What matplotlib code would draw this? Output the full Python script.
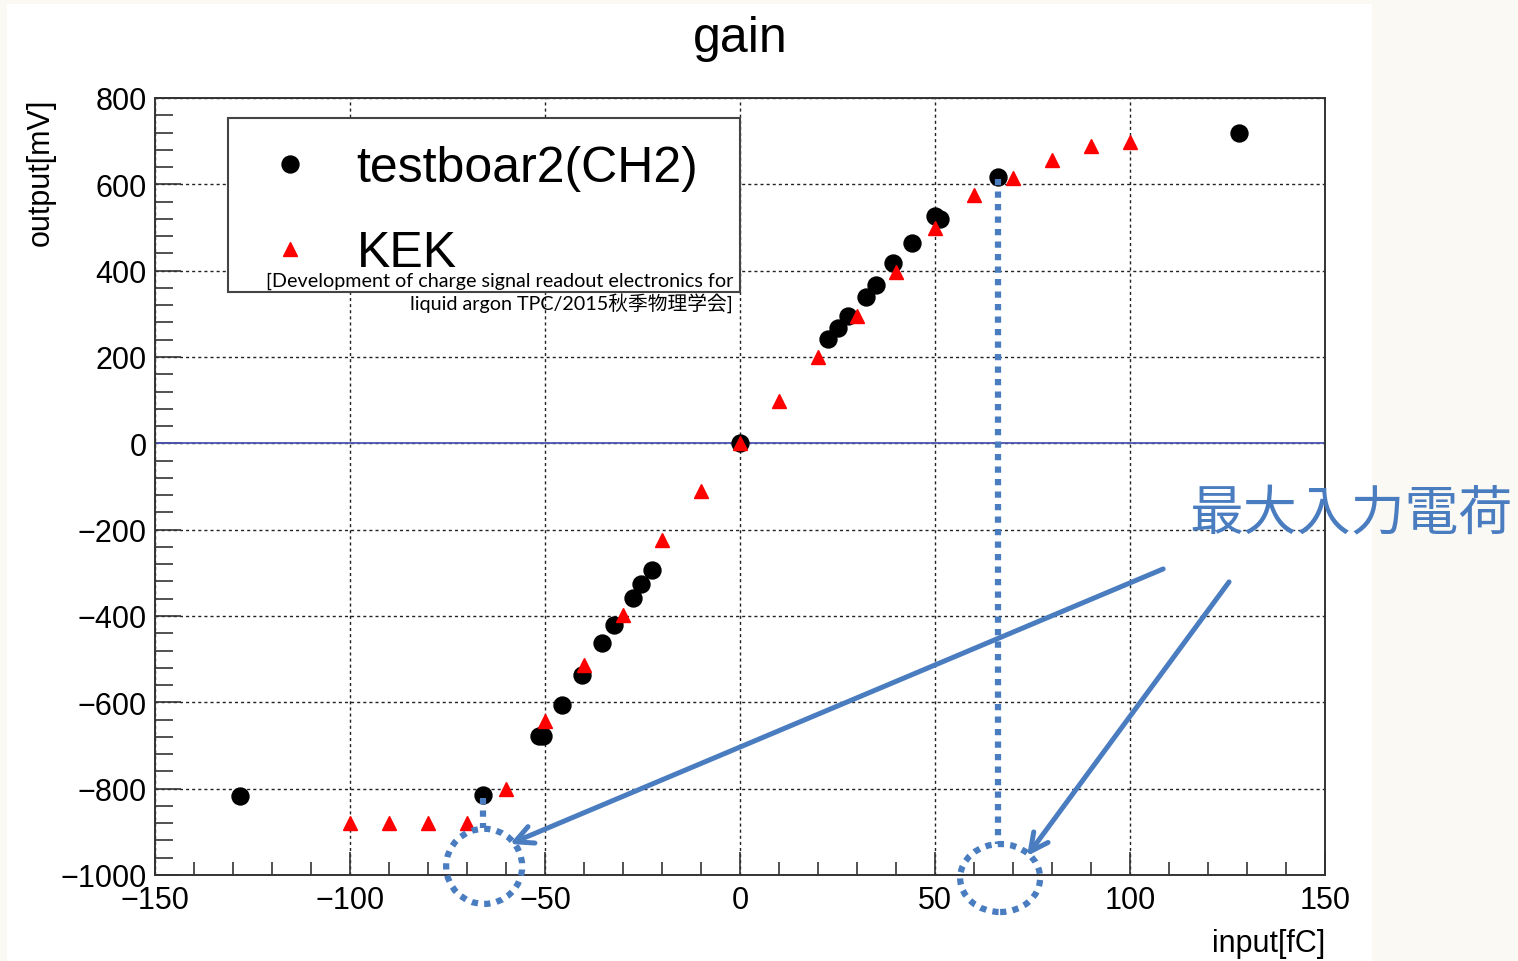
import matplotlib
matplotlib.use("Agg")
import matplotlib.pyplot as plt
from matplotlib.patches import Rectangle, Ellipse
from matplotlib.ticker import MultipleLocator

# ---------------- data ----------------
board_x = [-128.2, -65.9, -51.5, -50.5, -45.7, -40.6, -35.3, -32.2, -27.4, -25.3, -22.5,
           0.0, 22.5, 25.0, 27.8, 32.3, 34.9, 39.2, 44.0, 50.0, 51.3, 66.2, 128.0]
board_y = [-818, -815, -678, -678, -606, -536, -462, -420, -359, -327, -293,
           0, 242, 267, 294, 338, 367, 418, 463, 527, 520, 616, 720]

kek_x = [-100, -90, -80, -70, -60, -50, -40, -30, -20, -10, 0,
         10, 20, 30, 40, 50, 60, 70, 80, 90, 100]
kek_y = [-880, -880, -880, -880, -800, -643, -513, -398, -225, -111, 0,
         99, 199, 296, 398, 498, 575, 615, 657, 689, 697]

series_labels = ["testboar2(CH2)", "KEK"]
title = "gain"
xlabel = "input[fC]"
ylabel = "output[mV]"
citation = "[Development of charge signal readout electronics for\nliquid argon TPC/2015秋季物理学会]"
note = "最大入力電荷"
max_input = 66.2

W, H = 1518, 962
BLUE = "#4a7cc0"

plt.rcParams["font.family"] = ["Liberation Sans", "DejaVu Sans"]

fig = plt.figure(figsize=(W / 100, H / 100), dpi=100, facecolor="#faf9f4")
fig.patches.append(Rectangle((7 / W, 0), (1372 - 7) / W, 1 - 5 / H,
                             transform=fig.transFigure, facecolor="white",
                             edgecolor="none", zorder=-10))

ax = fig.add_axes([155 / W, 1 - 876 / H, (1325 - 155) / W, (876 - 99) / H])
ax.set_facecolor("white")
ax.set_xlim(-150, 150)
ax.set_ylim(-1000, 800)

ax.xaxis.set_major_locator(MultipleLocator(50))
ax.xaxis.set_minor_locator(MultipleLocator(10))
ax.yaxis.set_major_locator(MultipleLocator(200))
ax.yaxis.set_minor_locator(MultipleLocator(40))

for s in ax.spines.values():
    s.set_color("#333333")
    s.set_linewidth(1.4)

ax.tick_params(axis="both", which="both", direction="in", colors="#333333",
               labelcolor="black", labelsize=22, width=1.2)
ax.tick_params(axis="x", which="major", length=16.5, pad=7)
ax.tick_params(axis="x", which="minor", length=9.2)
ax.tick_params(axis="y", which="major", length=18.7, pad=6)
ax.tick_params(axis="y", which="minor", length=13.3)

ax.grid(True, which="major", color="#222222", linestyle=(0, (2.2, 2.2)), linewidth=1.0)
ax.set_axisbelow(True)

ax.axhline(0, color="#4b55b0", lw=1.3, zorder=2)

ax.plot(board_x, board_y, linestyle="none", marker="o", ms=12.2, color="black",
        zorder=3, label=series_labels[0])
ax.plot(kek_x, kek_y, linestyle="none", marker="^", ms=10, color="#ff0000",
        zorder=4, label=series_labels[1])

# axis labels / title
fig.text(740 / W, 1 - 39 / H, title, ha="center", va="center", fontsize=36)
fig.text(1325 / W, 1 - 944 / H, xlabel, ha="right", va="center", fontsize=22)
fig.text(41 / W, 1 - 99 / H, ylabel, ha="center", va="top", rotation=90, fontsize=22)

# legend frame (in axes, below legend)
ax.add_patch(Rectangle((228 / W, 1 - 293 / H), (740 - 228) / W, (293 - 119) / H,
                       transform=fig.transFigure, facecolor="white",
                       edgecolor="#444444", lw=1.5, zorder=5, clip_on=False))
leg = ax.legend(loc="upper left", bbox_to_anchor=(265 / W, 1 - 146 / H),
                bbox_transform=fig.transFigure, frameon=False, fontsize=36,
                handlelength=1.0, handletextpad=0.83, labelspacing=0.78,
                borderpad=0, borderaxespad=0, markerscale=1.0)
leg.set_zorder(6)

fig.text(733 / W, 1 - 293 / H, citation, ha="right", va="center", fontsize=14.2,
         family=["Lato", "Noto Sans CJK JP"], linespacing=1.2, zorder=7)

# annotations
lk = dict(color=BLUE, lw=4.5, linestyle=(0, (1, 1)), clip_on=False, solid_capstyle="butt",
          dash_capstyle="butt", zorder=8)
ax.plot([max_input, max_input], [612, -928], **lk)
ax.plot([-65.9, -65.9], [-822, -892], **lk)
for cx, cy, w, h in [(66.7, -1007, 20.5, 157.5), (-65.6, -980, 19.5, 174)]:
    e = Ellipse((cx, cy), w, h, fill=False, edgecolor=BLUE, lw=4.5,
                linestyle=(0, (1, 1)), clip_on=False, zorder=8)
    ax.add_patch(e)

ap = dict(arrowstyle="->", color=BLUE, lw=3.6, mutation_scale=32, shrinkA=0, shrinkB=0)
ax.annotate("", xy=(-59.0, -928), xytext=(108.5, -291), arrowprops=ap,
            annotation_clip=False, zorder=8)
ax.annotate("", xy=(73.6, -956), xytext=(125.4, -321), arrowprops=ap,
            annotation_clip=False, zorder=8)

fig.text(1189 / W, 1 - 515 / H, note, ha="left", va="center", fontsize=38.8,
         color=BLUE, family=["Noto Sans CJK JP"])

fig.savefig("out.png", dpi=100, facecolor=fig.get_facecolor())
